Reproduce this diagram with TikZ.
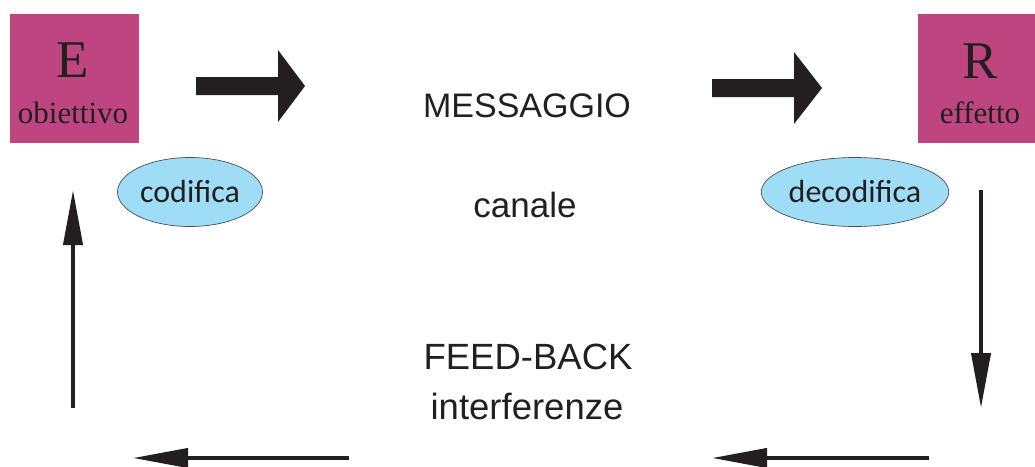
\documentclass[tikz,border=0pt]{standalone}
\usepackage{fontspec}
\setmainfont{Liberation Serif}
\newfontfamily\arialf{Liberation Sans}
\newfontfamily\calib{Carlito}
\usetikzlibrary{arrows.meta,shapes.geometric}
\definecolor{boxmag}{HTML}{BF4580}
\definecolor{ellblue}{HTML}{9FDCF6}
\definecolor{ink}{HTML}{231F20}
\tikzset{
  sqbox/.style={fill=boxmag,minimum width=129pt,minimum height=129pt,inner sep=0pt},
  bigletter/.style={anchor=base,font=\fontsize{53}{56}\selectfont,text=ink,inner sep=0pt},
  smallword/.style={anchor=base,font=\fontsize{31}{35}\selectfont,text=ink,inner sep=0pt},
  ell/.style={ellipse,fill=ellblue,draw=ink!80,line width=0.7pt,minimum width=145pt,minimum height=69pt,inner sep=0pt,font=\calib\fontsize{32}{34}\selectfont,text=ink},
  midtext/.style={anchor=base,font=\arialf\fontsize{34}{40}\selectfont,text=ink,inner sep=0pt},
  lowtext/.style={anchor=base,font=\arialf\fontsize{36.5}{40}\selectfont,text=ink,inner sep=0pt},
  blockarrow/.style={fill=ink},
  thinarrow/.style={draw=ink,line width=4pt,-{Triangle[length=55pt,width=19pt]}}
}
\begin{document}
\begin{tikzpicture}[x=1pt,y=-1pt]
\useasboundingbox (0,0) rectangle (1035,466);
% boxes
\node[sqbox] (E) at (74.5,78.5) {};
\node[sqbox] (R) at (982.5,78.5) {};
\node[bigletter] (Et) at (73,77) {E};
\node[smallword] (Ew) at (73,123) {obiettivo};
\node[bigletter] (Rt) at (980,78) {R};
\node[smallword] (Rw) at (980,123) {effetto};
% block arrows
\fill[blockarrow] (196,77) -- (278,77) -- (278,50) -- (305,86) -- (278,122) -- (278,95) -- (196,95) -- cycle;
\fill[blockarrow] (712,79) -- (794,79) -- (794,52) -- (822,88) -- (794,124) -- (794,97) -- (712,97) -- cycle;
% ellipses
\node[ell] (cod) at (190,192) {codifica};
\node[ell] (dec) at (855,192) {decodifica};
% middle texts
\node[midtext] (msg) at (527,117) {MESSAGGIO};
\node[midtext,font=\arialf\fontsize{35}{40}\selectfont] (can) at (525,217) {canale};
\node[lowtext] (fb) at (528,369) {FEED-BACK};
\node[lowtext] (intf) at (527,419) {interferenze};
% thin arrows
\coordinate (a1s) at (981,190);
\coordinate (a1e) at (981,408);
\coordinate (a2s) at (929,458);
\coordinate (a2e) at (712,458);
\coordinate (a3s) at (349,458);
\coordinate (a3e) at (133,458);
\coordinate (a4s) at (73,408);
\coordinate (a4e) at (73,190);
\draw[thinarrow] (a1s) -- (a1e);
\draw[thinarrow] (a2s) -- (a2e);
\draw[thinarrow] (a3s) -- (a3e);
\draw[thinarrow] (a4s) -- (a4e);
\end{tikzpicture}
\end{document}
